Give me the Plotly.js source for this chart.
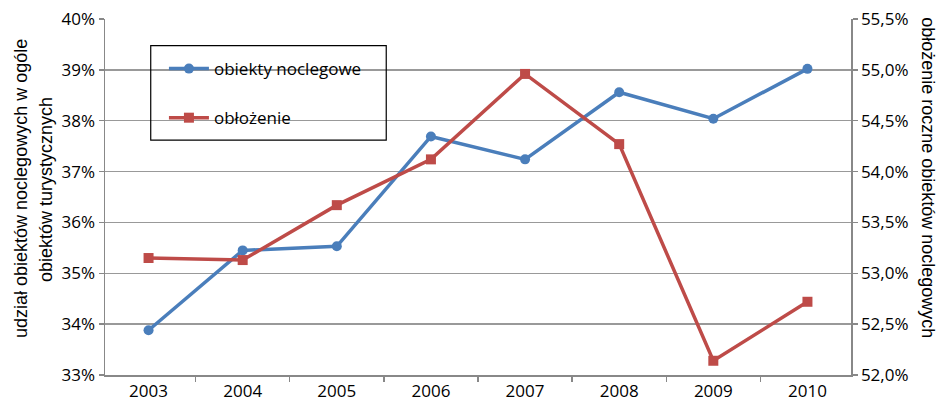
<!DOCTYPE html>
<html>
<head>
<meta charset="utf-8">
<script src="https://cdn.plot.ly/plotly-3.0.1.min.js"></script>
<style>html,body{margin:0;padding:0;background:#fff;}#chart{width:948px;height:404px;}</style>
</head>
<body>
<div id="chart"></div>
<script>
const years = ["2003","2004","2005","2006","2007","2008","2009","2010"];
const obiektyNoclegowe = [33.88, 35.45, 35.53, 37.69, 37.24, 38.56, 38.04, 39.02];
const oblozenie = [53.15, 53.13, 53.67, 54.12, 54.96, 54.27, 52.14, 52.72];
const leftTicks = [33, 34, 35, 36, 37, 38, 39, 40];
const rightTicks = [52.0, 52.5, 53.0, 53.5, 54.0, 54.5, 55.0, 55.5];
const leftTitle1 = "udział obiektów noclegowych w ogóle";
const leftTitle2 = "obiektów turystycznych";
const rightTitle = "obłożenie roczne obiektów noclegowych";

const FONT = "Open Sans, Noto Sans, sans-serif";
const TFONT = "Liberation Sans";
const traces = [
  {x: years, y: obiektyNoclegowe, name: "obiekty noclegowe", type: "scatter", mode: "lines+markers",
   yaxis: "y", legendgroup: "a",
   line: {color: "#4a7ebb", width: 3.5}, marker: {symbol: "circle", size: 10, color: "#4a7ebb"}},
  {x: years, y: oblozenie, name: "obłożenie", type: "scatter", mode: "lines+markers",
   yaxis: "y2", legendgroup: "b",
   line: {color: "#be4b48", width: 3.5}, marker: {symbol: "square", size: 10, color: "#be4b48"}}
];
const layout = {
  width: 948, height: 404,
  margin: {l: 105, r: 97, t: 19, b: 29},
  paper_bgcolor: "#fff", plot_bgcolor: "#fff",
  separators: ",.",
  font: {family: FONT, size: 17, color: "#000"},
  showlegend: true,
  legend: {x: 0.079, y: 0.91, xanchor: "left", yanchor: "top", bgcolor: "rgba(0,0,0,0)",
           borderwidth: 0, font: {family: FONT, size: 17}, tracegroupgap: 24, traceorder: "grouped",
           itemwidth: 40},
  xaxis: {type: "category", showgrid: false, showline: true, linecolor: "#888", linewidth: 1.5,
          ticks: "outside", tickson: "boundaries", ticklen: 5, tickcolor: "#888", tickwidth: 1.5,
          tickfont: {size: 17}, zeroline: false},
  yaxis: {range: [33, 40], tickvals: leftTicks, ticktext: leftTicks.map(v => v + "%"),
          showgrid: true, gridcolor: "#999", gridwidth: 1.5, showline: true, linecolor: "#888", linewidth: 1.5,
          ticks: "outside", ticklen: 5, tickcolor: "#888", tickwidth: 1.5, zeroline: false,
          tickfont: {size: 17}},
  yaxis2: {range: [52, 55.5], overlaying: "y", side: "right", tickvals: rightTicks,
           ticktext: rightTicks.map(v => v.toFixed(1).replace(".", ",") + "%"),
           showgrid: false, showline: true, linecolor: "#888", linewidth: 1.5,
           ticks: "outside", ticklen: 5, tickcolor: "#888", tickwidth: 1.5, zeroline: false,
           tickfont: {size: 17}},
  annotations: [
    {text: leftTitle1, xref: "paper", yref: "paper", x: -0.1126, y: 0.5225, textangle: -90,
     showarrow: false, xanchor: "center", yanchor: "middle", font: {family: TFONT, size: 18}},
    {text: leftTitle2, xref: "paper", yref: "paper", x: -0.0791, y: 0.5225, textangle: -90,
     showarrow: false, xanchor: "center", yanchor: "middle", font: {family: TFONT, size: 18}},
    {text: rightTitle, xref: "paper", yref: "paper", x: 1.1032, y: 0.553, textangle: 90,
     showarrow: false, xanchor: "center", yanchor: "middle", font: {family: TFONT, size: 18}}
  ],
  shapes: [{type: "rect", xref: "paper", yref: "paper", x0: 0.0613, x1: 0.377, y0: 0.660, y1: 0.925,
            line: {color: "#000", width: 1.2}, fillcolor: "rgba(0,0,0,0)"}]
};
Plotly.newPlot("chart", traces, layout, {displayModeBar: false, staticPlot: true});
</script>
</body>
</html>
